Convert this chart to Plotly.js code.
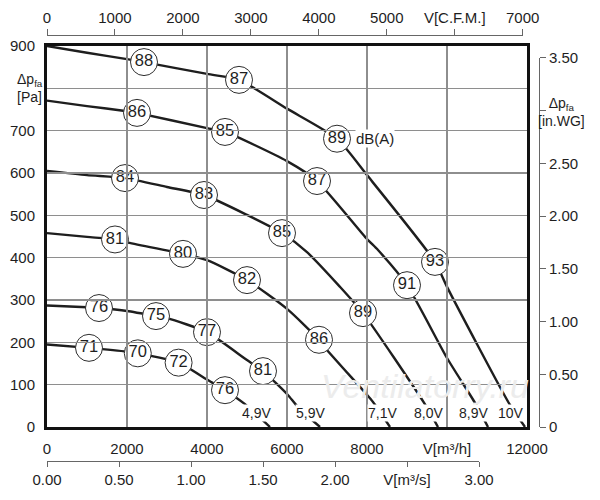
<!DOCTYPE html>
<html>
<head>
<meta charset="utf-8">
<script src="https://cdn.plot.ly/plotly-3.0.1.min.js"></script>
<style>
  html, body { margin: 0; padding: 0; background: #fff; }
  #chart { width: 600px; height: 500px; }
</style>
</head>
<body>
<div id="chart"></div>
<script>
// fan curves, airflow V [m3/h] vs static pressure dp_fa [Pa]
var q10V  = [0, 1000, 2000, 2425, 4000, 4800, 6000, 7250, 8000, 9700, 10000, 11575, 11950];
var p10V  = [900, 884, 869, 862, 834, 820, 752, 681, 595, 390, 331, 52, 0];
var q89V  = [0, 1000, 2000, 2250, 4000, 4450, 6000, 6750, 8000, 8275, 9000, 10000, 10700, 11025];
var p89V  = [771, 758, 746, 742, 706, 697, 628, 581, 444, 418, 335, 163, 57, 0];
var q80V  = [0, 1000, 1950, 3000, 3925, 5000, 5875, 6500, 7325, 7900, 9420, 9775];
var p80V  = [605, 595, 588, 567, 548, 501, 458, 413, 331, 269, 58, 0];
var q71V  = [0, 1000, 1700, 2000, 3400, 4000, 5000, 6000, 6800, 7000, 8000, 8150, 8575];
var p71V  = [458, 449, 443, 436, 409, 394, 347, 279, 206, 182, 76, 59, 0];
var q59V  = [0, 1000, 1300, 2000, 2725, 3000, 4000, 5000, 5400, 6000, 6275, 6825];
var p59V  = [287, 283, 281, 274, 262, 257, 224, 158, 132, 78, 47, 0];
var q49V  = [0, 1050, 2000, 2270, 3290, 4000, 4450, 4950, 5575];
var p49V  = [195, 187, 178, 174, 152, 112, 87, 54, 0];

// sound level markers dB(A) on the curves
var dbQ = [2425, 4800, 7250, 9700,  2250, 4450, 6750, 9000,  1950, 3925, 5875, 7900,
           1700, 3400, 5000, 6800,  1300, 2725, 4000, 5400,  1050, 2270, 3290, 4450];
var dbP = [862, 820, 681, 390,  742, 697, 581, 335,  588, 548, 458, 269,
           443, 409, 347, 206,  281, 262, 224, 132,  187, 174, 152, 87];
var dbText = ['88', '87', '89', '93',  '86', '85', '87', '91',  '84', '83', '85', '89',
              '81', '80', '82', '86',  '76', '75', '77', '81',  '71', '70', '72', '76'];

var voltText = ['4,9V', '5,9V', '7,1V', '8,0V', '8,9V', '10V'];
var voltQ = [5225, 6575, 8375, 9525, 10650, 11590];

var qTicks = [0, 2000, 4000, 6000, 8000, 10000, 12000];
var qTickText = ['0', '2000', '4000', '6000', '8000', 'V[m³/h]', '12000'];
var pTicks = [0, 100, 200, 300, 400, 500, 600, 700, 900];
var pTickText = ['0', '100', '200', '300', '400', '500', '600', '700', '900'];
var pNameTick = 800;      // grid line only, the Δp label sits there
var cfmTicks = [0, 1000, 2000, 3000, 4000, 5000, 6000, 7000];
var cfmTickText = ['0', '1000', '2000', '3000', '4000', '5000', 'V[C.F.M.]', '7000'];
var m3sTicks = [0, 0.5, 1, 1.5, 2, 2.5, 3];
var m3sTickText = ['0.00', '0.50', '1.00', '1.50', '2.00', 'V[m³/s]', '3.00'];
var inwgTicks = [0, 0.5, 1, 1.5, 2, 2.5, 3.5];
var inwgTickText = ['0', '0.50', '1.00', '1.50', '2.00', '2.50', '3.50'];
var inwgNameTick = 3;     // tick mark only, the Δp label sits there

var M3H_PER_CFM = 1.699;
var PA_PER_INWG = 249.089;
var QMAX = 12000, PMAX = 900;

var FONT = 'Liberation Sans, Arial, sans-serif';
var INK = '#1e1e1e';
var GRID = '#8e8e8e';

// paper area runs from the CFM axis (top) to the m3/s axis (bottom)
var xDom = [0, 480 / 492];
var yDom = [34 / 426, 415 / 426];
var cfmEnd = xDom[1] * (7000 * M3H_PER_CFM / QMAX);
var m3sEnd = xDom[1] * (3 * 3600 / QMAX);
var inwgEnd = yDom[0] + (yDom[1] - yDom[0]) * (3.5 * PA_PER_INWG / PMAX);

// data -> paper fraction, for labels that sit outside the plot area
function paperX(q) { return xDom[0] + (xDom[1] - xDom[0]) * q / QMAX; }
function paperY(p) { return yDom[0] + (yDom[1] - yDom[0]) * p / PMAX; }

function curve(q, p) {
    return {
        x: q, y: p, mode: 'lines', type: 'scatter',
        line: {color: INK, width: 2.4, shape: 'spline', smoothing: 0.6},
        hoverinfo: 'skip', showlegend: false
    };
}

var data = [
    curve(q10V, p10V), curve(q89V, p89V), curve(q80V, p80V),
    curve(q71V, p71V), curve(q59V, p59V), curve(q49V, p49V),
    {
        x: dbQ, y: dbP, text: dbText, mode: 'markers+text', type: 'scatter',
        marker: {symbol: 'circle', size: 27, color: '#fff', line: {color: '#2e2e2e', width: 1}},
        textposition: 'middle center',
        textfont: {family: FONT, size: 16.5, color: INK},
        cliponaxis: false, hoverinfo: 'skip', showlegend: false
    },
    // empty traces so the extra axes get drawn
    {x: [], y: [], mode: 'lines', xaxis: 'x2', yaxis: 'y', showlegend: false, hoverinfo: 'skip'},
    {x: [], y: [], mode: 'lines', xaxis: 'x3', yaxis: 'y', showlegend: false, hoverinfo: 'skip'},
    {x: [], y: [], mode: 'lines', xaxis: 'x', yaxis: 'y2', showlegend: false, hoverinfo: 'skip'}
];

var annotations = [{
    x: 9450, y: 97, xref: 'x', yref: 'y', text: 'Ventilatorry.ru', showarrow: false,
    font: {family: FONT, size: 34, color: '#ececec', style: 'italic'}
}];
voltText.forEach(function (t, i) {
    annotations.push({
        x: voltQ[i], y: 33, xref: 'x', yref: 'y', text: t, showarrow: false,
        font: {family: FONT, size: 14, color: INK},
        bgcolor: '#fff', borderpad: 0
    });
});
annotations.push({
    x: 7700, y: 681, xref: 'x', yref: 'y', text: 'dB(A)', showarrow: false,
    xanchor: 'left', font: {family: FONT, size: 15, color: INK}, bgcolor: '#fff', borderpad: 0
});
annotations.push({
    x: paperX(-800), y: paperY(pNameTick), xref: 'paper', yref: 'paper',
    text: 'Δp<sub>fa</sub><br>[Pa]', showarrow: false,
    xanchor: 'left', yanchor: 'middle', align: 'left',
    font: {family: FONT, size: 14, color: INK}
});
annotations.push({
    x: paperX(12850), y: paperY(inwgNameTick * PA_PER_INWG - 3), xref: 'paper', yref: 'paper',
    text: 'Δp<sub>fa</sub><br>[in.WG]', showarrow: false,
    xanchor: 'center', yanchor: 'middle', align: 'center',
    font: {family: FONT, size: 14, color: INK}
});

var tickFont = {family: FONT, size: 15, color: INK};

var layout = {
    width: 600, height: 500,
    margin: {l: 47, r: 61, t: 35, b: 39, pad: 0},
    paper_bgcolor: '#fff', plot_bgcolor: 'rgba(0,0,0,0)',
    showlegend: false,
    xaxis: {
        domain: xDom, range: [0, QMAX], anchor: 'y',
        tickmode: 'array', tickvals: qTicks, ticktext: qTickText, tickfont: tickFont,
        ticks: '', ticklabelstandoff: 6,
        showgrid: true, gridcolor: GRID, gridwidth: 1.2, zeroline: false,
        showline: true, linecolor: '#111', linewidth: 3, mirror: true
    },
    yaxis: {
        domain: yDom, range: [0, PMAX], anchor: 'x',
        tickmode: 'array', tickvals: pTicks, ticktext: pTickText, tickfont: tickFont,
        ticks: '', ticklabelstandoff: 6,
        showgrid: true, gridcolor: GRID, gridwidth: 1.2, zeroline: false,
        minor: {tickmode: 'array', tickvals: [pNameTick], ticks: '',
                showgrid: true, gridcolor: GRID, gridwidth: 1.2},
        showline: true, linecolor: '#111', linewidth: 3, mirror: true
    },
    xaxis2: {
        domain: [0, cfmEnd], range: [0, 7000], anchor: 'free', position: 1, side: 'top',
        tickmode: 'array', tickvals: cfmTicks, ticktext: cfmTickText, tickfont: tickFont,
        ticks: 'outside', ticklen: 6, tickcolor: '#666', tickwidth: 1,
        showgrid: false, zeroline: false, showline: true, linecolor: '#666', linewidth: 1
    },
    xaxis3: {
        domain: [0, m3sEnd], range: [0, 3], anchor: 'free', position: 0, side: 'bottom',
        tickmode: 'array', tickvals: m3sTicks, ticktext: m3sTickText, tickfont: tickFont,
        ticks: 'outside', ticklen: 5, tickcolor: '#666', tickwidth: 1,
        showgrid: false, zeroline: false, showline: true, linecolor: '#666', linewidth: 1
    },
    yaxis2: {
        domain: [yDom[0], inwgEnd], range: [0, 3.5], anchor: 'free', position: 1, side: 'right',
        tickmode: 'array', tickvals: inwgTicks, ticktext: inwgTickText, tickfont: tickFont,
        ticks: 'outside', ticklen: 6, tickcolor: '#666', tickwidth: 1,
        minor: {tickmode: 'array', tickvals: [inwgNameTick], ticks: 'outside',
                ticklen: 6, tickcolor: '#666', tickwidth: 1, showgrid: false},
        showgrid: false, zeroline: false, showline: true, linecolor: '#666', linewidth: 1
    },
    annotations: annotations
};

Plotly.newPlot('chart', data, layout, {staticPlot: true, displayModeBar: false});
</script>
</body>
</html>
